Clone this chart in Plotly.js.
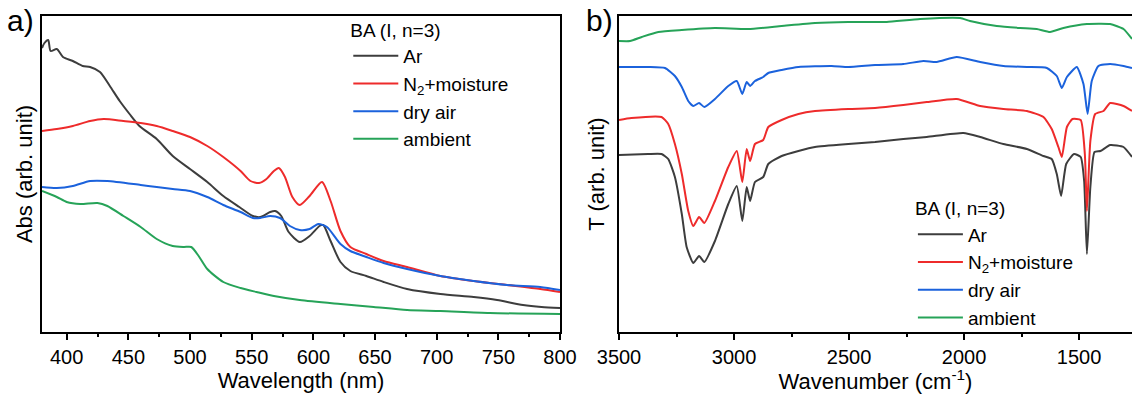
<!DOCTYPE html>
<html>
<head>
<meta charset="utf-8">
<script src="https://cdn.plot.ly/plotly-3.0.1.min.js"></script>
<style>html,body{margin:0;padding:0;background:#fff;}#chart{width:1132px;height:394px;}</style>
</head>
<body>
<div id="chart"></div>
<script>
// ---------- Panel a) UV-vis absorbance (arb. unit) ----------
const wlAr = [380, 382, 385, 387, 392, 397, 405, 413, 419, 427, 435, 443, 451, 459, 473, 486, 500, 514, 527, 540, 551, 557, 565, 569, 574, 580, 589, 597, 605, 608, 614, 622, 630, 643, 657, 676, 703, 730, 749, 770, 785, 800];
const absAr = [284, 289, 292, 281, 283, 275, 271, 266, 265, 260, 246, 231, 218, 206, 193, 176, 163, 150, 136, 125, 116, 115, 120, 121, 116, 100, 90, 96, 106, 107, 91, 70, 61, 56, 50, 43, 38, 35, 32, 27, 25, 24];

const wlN2 = [380, 392, 405, 419, 430, 446, 460, 473, 486, 500, 514, 527, 541, 549, 556, 562, 568, 572, 577, 583, 589, 597, 607, 614, 622, 630, 643, 657, 676, 703, 730, 757, 784, 800];
const absN2 = [201, 203, 206, 211, 213, 211, 209, 206, 201, 195, 186, 175, 161, 151, 149, 153, 161, 164, 155, 135, 127, 136, 150, 131, 101, 85, 78, 71, 65, 56, 51, 47, 43, 40];

const wlDry = [380, 392, 405, 419, 433, 460, 473, 486, 500, 514, 527, 541, 551, 557, 565, 573, 581, 589, 597, 604, 611, 622, 630, 643, 657, 676, 703, 730, 757, 784, 800];
const absDry = [145, 144, 146, 151, 151, 147, 145, 143, 141, 135, 127, 120, 114, 114, 116, 114, 106, 102, 103, 108, 105, 88, 81, 75, 69, 63, 56, 51, 47, 45, 42];

const wlAmb = [380, 392, 400, 411, 425, 433, 446, 460, 473, 486, 495, 501, 507, 514, 527, 541, 554, 568, 589, 622, 649, 676, 703, 743, 800];
const absAmb = [141, 135, 130, 128, 129, 126, 116, 105, 93, 86, 85, 85, 76, 63, 50, 44, 40, 36, 32, 28, 25, 22, 21, 19, 18];

// ---------- Panel b) IR transmittance (arb. unit, offset) ----------
const wnAr = [3500, 3373, 3315, 3286, 3257, 3227, 3206, 3177, 3152, 3129, 3083, 3025, 2988, 2964, 2945, 2930, 2909, 2873, 2851, 2793, 2720, 2648, 2503, 2387, 2264, 2162, 2003, 1930, 1829, 1727, 1655, 1619, 1597, 1578, 1556, 1522, 1493, 1478, 1466, 1451, 1433, 1407, 1365, 1307, 1270];
const tAr = [177, 178, 178, 173, 155, 118, 85, 69, 76, 70, 91, 128, 146, 111, 145, 131, 150, 155, 168, 176, 181, 185, 188, 190, 193, 195, 199, 195, 188, 183, 176, 173, 158, 136, 168, 178, 175, 151, 78, 145, 180, 181, 187, 185, 175];

const wnN2 = [3500, 3446, 3315, 3286, 3257, 3227, 3199, 3177, 3152, 3129, 3083, 3025, 2988, 2964, 2945, 2930, 2909, 2873, 2851, 2793, 2720, 2648, 2503, 2387, 2264, 2162, 2032, 1930, 1829, 1727, 1655, 1619, 1590, 1575, 1553, 1529, 1493, 1475, 1466, 1451, 1430, 1394, 1365, 1307, 1270];
const tN2 = [212, 214, 215, 208, 188, 158, 121, 106, 115, 109, 131, 165, 181, 150, 183, 171, 188, 192, 205, 212, 218, 221, 223, 224, 227, 230, 233, 226, 223, 221, 215, 203, 185, 175, 205, 213, 212, 178, 121, 191, 218, 221, 229, 226, 221];

const wnDry = [3500, 3373, 3300, 3257, 3227, 3199, 3177, 3152, 3129, 3083, 3025, 2988, 2964, 2945, 2930, 2909, 2873, 2851, 2793, 2720, 2576, 2503, 2387, 2264, 2177, 2119, 2032, 1930, 1829, 1727, 1640, 1597, 1575, 1553, 1510, 1481, 1463, 1445, 1416, 1365, 1307, 1270];
const tDry = [265, 265, 264, 256, 245, 231, 226, 229, 225, 233, 246, 251, 238, 250, 246, 251, 255, 259, 262, 265, 266, 265, 267, 268, 271, 270, 275, 270, 266, 265, 264, 256, 244, 255, 265, 248, 218, 251, 266, 268, 266, 264];

const wnAmb = [3500, 3452, 3401, 3329, 3227, 3083, 2938, 2793, 2648, 2503, 2409, 2336, 2191, 2017, 1974, 1858, 1757, 1684, 1626, 1568, 1466, 1365, 1307, 1270];
const tAmb = [291, 291, 295, 300, 302, 304, 303, 306, 309, 310, 310, 310, 313, 314, 311, 306, 304, 303, 300, 304, 308, 308, 303, 293];

const seriesNames = ['Ar', 'N<sub>2</sub>+moisture', 'dry air', 'ambient'];
const seriesColors = ['#3d3d3d', '#ee2b2b', '#1b62dc', '#26a358'];
const legendTitle = 'BA (I, n=3)';

const panelA = [[wlAr, absAr], [wlN2, absN2], [wlDry, absDry], [wlAmb, absAmb]];
const panelB = [[wnAr, tAr], [wnN2, tN2], [wnDry, tDry], [wnAmb, tAmb]];

const traces = [];
panelA.forEach((d, i) => traces.push({
  x: d[0], y: d[1], type: 'scatter', mode: 'lines', name: seriesNames[i],
  line: {color: seriesColors[i], width: 2, shape: 'spline', smoothing: 0.7},
  xaxis: 'x', yaxis: 'y', legend: 'legend'
}));
panelB.forEach((d, i) => traces.push({
  x: d[0], y: d[1], type: 'scatter', mode: 'lines', name: seriesNames[i],
  line: {color: seriesColors[i], width: 2, shape: 'spline', smoothing: 0.5},
  xaxis: 'x2', yaxis: 'y2', legend: 'legend2'
}));

const FONT = 'Liberation Sans, Arial, Helvetica, sans-serif';
const axCommon = {
  showline: true, linewidth: 2, linecolor: '#000', showgrid: false, zeroline: false,
  ticks: 'outside', ticklen: 6, tickwidth: 2, tickcolor: '#000',
  tickfont: {size: 20, family: FONT, color: '#000'}
};
const legCommon = {
  xanchor: 'left', yanchor: 'top', bgcolor: 'rgba(0,0,0,0)', borderwidth: 0,
  font: {size: 19, family: FONT, color: '#000'}, itemwidth: 45, tracegroupgap: 0,
  title: {text: legendTitle, font: {size: 19, family: FONT, color: '#000'}}
};

const layout = {
  width: 1132, height: 394,
  margin: {l: 42, r: 0, t: 16, b: 62},
  paper_bgcolor: '#fff', plot_bgcolor: '#fff',
  font: {family: FONT, size: 20, color: '#000'},
  showlegend: true,
  xaxis: Object.assign({}, axCommon, {
    domain: [0, 0.47523], range: [380, 800], tick0: 400, dtick: 50, mirror: true,
    minor: {dtick: 25, tick0: 400, ticks: 'outside', ticklen: 3, tickwidth: 2, tickcolor: '#000'},
    title: {text: 'Wavelength (nm)', font: {size: 22, family: FONT}, standoff: 5}
  }),
  yaxis: Object.assign({}, axCommon, {
    domain: [0, 1], range: [0, 316], showticklabels: false, ticks: '', mirror: true,
    title: {text: 'Abs (arb. unit)', font: {size: 22, family: FONT}, standoff: 1}
  }),
  xaxis2: Object.assign({}, axCommon, {
    domain: [0.52936, 1], range: [3500, 1270], anchor: 'y2', tick0: 1500, dtick: 500, mirror: true,
    minor: {dtick: 250, tick0: 1500, ticks: 'outside', ticklen: 3, tickwidth: 2, tickcolor: '#000'},
    title: {text: 'Wavenumber (cm<sup>-1</sup>)', font: {size: 22, family: FONT}, standoff: 5}
  }),
  yaxis2: Object.assign({}, axCommon, {
    domain: [0, 1], range: [0, 316], anchor: 'x2', showticklabels: false, ticks: '', mirror: false,
    title: {text: 'T (arb. unit)', font: {size: 22, family: FONT}, standoff: 6}
  }),
  legend: Object.assign({}, legCommon, {x: 0.281, y: 1.012}),
  legend2: Object.assign({}, legCommon, {x: 0.799, y: 0.447}),
  annotations: [
    {text: 'a)', xref: 'paper', yref: 'paper', x: -0.034, y: 0.985, xanchor: 'left', yanchor: 'middle', showarrow: false, font: {size: 30, family: FONT, color: '#000'}},
    {text: 'b)', xref: 'paper', yref: 'paper', x: 0.4975, y: 0.985, xanchor: 'left', yanchor: 'middle', showarrow: false, font: {size: 30, family: FONT, color: '#000'}}
  ]
};

Plotly.newPlot('chart', traces, layout, {staticPlot: true, displayModeBar: false});
</script>
</body>
</html>
